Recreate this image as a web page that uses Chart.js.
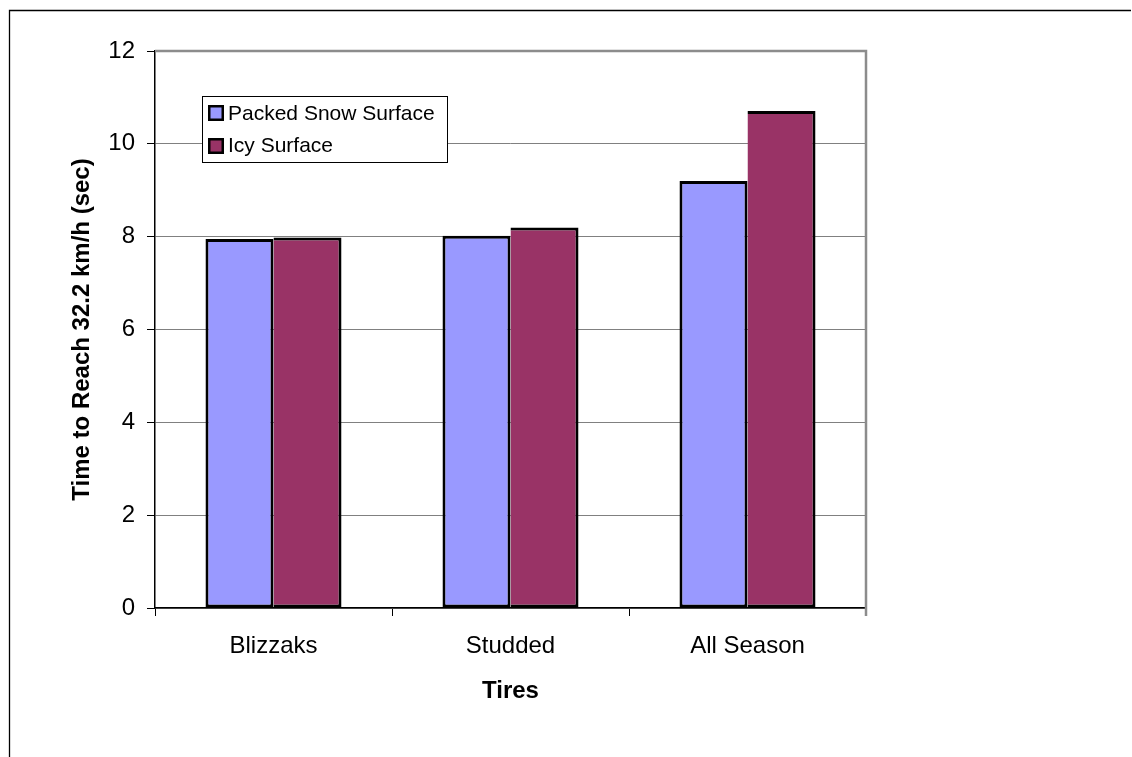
<!DOCTYPE html>
<html>
<head>
<meta charset="utf-8">
<script src="https://cdn.jsdelivr.net/npm/chart.js@4/dist/chart.umd.min.js"></script>
<style>
  html, body { margin: 0; padding: 0; background: #ffffff; }
  #wrap { width: 1132px; height: 757px; }
</style>
</head>
<body>
<div id="wrap"><canvas id="c" width="1132" height="757"></canvas></div>
<script>
// Tire types along the x axis
const categories = ['Blizzaks', 'Studded', 'All Season'];
// Time (sec) to reach 32.2 km/h on each surface
const packedSnow = [7.95, 8.02, 9.20];
const icy = [7.98, 8.20, 10.71];
// Y axis range and step
const yMin = 0;
const yMax = 12;
const yStep = 2;

const FONT = "'Liberation Sans', Arial, Helvetica, sans-serif";

// Outer frame, white page and the gray top/right edges of the plot area
const framePlugin = {
  id: 'frame',
  beforeDraw(chart) {
    const ctx = chart.ctx;
    ctx.save();
    ctx.fillStyle = '#ffffff';
    ctx.fillRect(0, 0, chart.width, chart.height);
    ctx.strokeStyle = '#000000';
    ctx.lineWidth = 1.3;
    ctx.beginPath();
    ctx.moveTo(9.5, chart.height);
    ctx.lineTo(9.5, 10.5);
    ctx.lineTo(chart.width - 1, 10.5);
    ctx.stroke();
    ctx.restore();
  },
  afterDatasetsDraw(chart) {
    const a = chart.chartArea;
    const ctx = chart.ctx;
    ctx.save();
    ctx.strokeStyle = '#8c8c8c';
    ctx.lineWidth = 2.5;
    ctx.beginPath();
    ctx.moveTo(a.left, a.top);
    ctx.lineTo(a.right, a.top);
    ctx.lineTo(a.right, a.bottom + 8);
    ctx.stroke();
    ctx.restore();
  }
};

// Boxed legend inside the plot area
const boxLegendPlugin = {
  id: 'boxLegend',
  afterDraw(chart) {
    const ctx = chart.ctx;
    const x = 202, y = 96, w = 245, h = 66;
    ctx.save();
    ctx.fillStyle = '#ffffff';
    ctx.fillRect(x, y, w, h);
    ctx.strokeStyle = '#000000';
    ctx.lineWidth = 1;
    ctx.strokeRect(x + 0.5, y + 0.5, w, h);
    ctx.font = '21px ' + FONT;
    ctx.textBaseline = 'middle';
    ctx.textAlign = 'left';
    const rows = [113, 145.5];
    chart.data.datasets.forEach((ds, i) => {
      const cy = Math.round(rows[i]);
      ctx.fillStyle = '#000000';
      ctx.fillRect(208, cy - 8, 16, 16);
      ctx.fillStyle = ds.backgroundColor;
      ctx.fillRect(210.5, cy - 5.5, 11, 11);
      ctx.fillStyle = '#000000';
      ctx.fillText(ds.label, 228, rows[i] + 1);
    });
    ctx.restore();
  }
};

new Chart(document.getElementById('c'), {
  type: 'bar',
  data: {
    labels: categories,
    datasets: [
      {
        label: 'Packed Snow Surface',
        data: packedSnow,
        backgroundColor: '#9999FF',
        borderColor: '#000000',
        borderWidth: 3,
        borderSkipped: false,
        inflateAmount: 0,
        categoryPercentage: 0.574,
        barPercentage: 1.0
      },
      {
        label: 'Icy Surface',
        data: icy,
        backgroundColor: '#993366',
        borderColor: '#000000',
        borderWidth: 3,
        borderSkipped: 'left',
        inflateAmount: 0,
        categoryPercentage: 0.574,
        barPercentage: 1.0
      }
    ]
  },
  options: {
    responsive: false,
    animation: false,
    devicePixelRatio: 1,
    layout: { padding: { left: 0, top: 51, right: 266, bottom: 0 } },
    plugins: {
      legend: { display: false },
      tooltip: { enabled: false }
    },
    scales: {
      x: {
        offset: true,
        grid: {
          offset: true,
          drawOnChartArea: false,
          drawTicks: true,
          tickLength: 8,
          tickColor: '#000000'
        },
        border: { color: '#000000', width: 1.5 },
        ticks: {
          color: '#000000',
          padding: 16,
          font: { family: FONT, size: 24 }
        },
        title: {
          display: true,
          text: 'Tires',
          color: '#000000',
          font: { family: FONT, size: 24, weight: 'bold' },
          padding: { top: 0, bottom: 51 }
        },
        afterFit(scale) { scale.height = 149; }
      },
      y: {
        min: yMin,
        max: yMax,
        grid: {
          color: '#808080',
          lineWidth: 1,
          tickLength: 8,
          tickColor: '#000000'
        },
        border: { color: '#000000', width: 1.5 },
        ticks: {
          stepSize: yStep,
          color: '#000000',
          padding: 12,
          font: { family: FONT, size: 24 }
        },
        title: {
          display: true,
          text: 'Time to Reach 32.2 km/h (sec)',
          color: '#000000',
          font: { family: FONT, size: 24, weight: 'bold' },
          padding: { top: 68, bottom: 0 }
        },
        afterFit(scale) { scale.width = 155; }
      }
    }
  },
  plugins: [framePlugin, boxLegendPlugin]
});
</script>
</body>
</html>
